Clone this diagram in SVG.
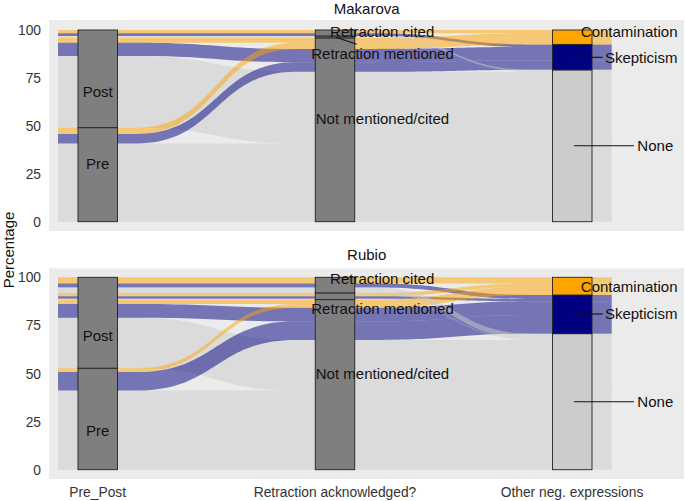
<svg xmlns="http://www.w3.org/2000/svg" width="685" height="501" viewBox="0 0 685 501">
<style>
text{font-family:"Liberation Sans",Arial,sans-serif;fill:#111}
.panel{fill:#EBEBEB}
.o{fill:#FFA500;fill-opacity:.5}
.p{fill:#000080;fill-opacity:.5}
.g{fill:#CCCCCC;fill-opacity:.5}
.st{stroke:#222;stroke-width:.9}
.gr{fill:#7F7F7F}
.lab{font-size:15px;text-anchor:middle}
.title{font-size:15px;text-anchor:middle}
.tick{font-size:13.8px;text-anchor:end;fill:#333}
.xl{font-size:13.8px;text-anchor:middle;fill:#333}
.seg{stroke:#111;stroke-width:1.1;fill:none}
</style>
<rect width="685" height="501" fill="#fff"/>
<rect class="panel" x="49" y="20" width="635" height="211"/>
<rect class="panel" x="49" y="268.3" width="635" height="210.7"/>
<text class="title" x="366.7" y="14">Makarova</text>
<text class="title" x="366.7" y="260">Rubio</text>

<g id="connectors">
<g id="flows-makarova">
<path class="g" d="M58,143.49H611.7V221.7H58Z"/>
<path class="g" d="M58,56.07H137.3C216.4,56.07 216.4,71.79 295.5,71.79H611.7V143.49H295.5C216.4,143.49 216.4,127.77 137.3,127.77H58Z"/>
<path class="o" d="M58,30H611.7V33.26H58Z"/>
<path class="p" d="M58,33.26H374.5C453.6,33.26 453.6,44.38 532.7,44.38H611.7V47.06H532.7C453.6,47.06 453.6,35.94 374.5,35.94H58Z"/>
<path class="o" d="M58,37.86H374.5C453.6,37.86 453.6,33.26 532.7,33.26H611.7V38.24H532.7C453.6,38.24 453.6,42.84 374.5,42.84H58Z"/>
<path class="p" d="M58,42.84H137.3C216.4,42.84 216.4,48.98 295.5,48.98H374.5C453.6,48.98 453.6,47.06 532.7,47.06H611.7V60.29H532.7C453.6,60.29 453.6,62.21 374.5,62.21H295.5C216.4,62.21 216.4,56.07 137.3,56.07H58Z"/>
<path class="o" d="M58,127.77H137.3C216.4,127.77 216.4,42.84 295.5,42.84H374.5C453.6,42.84 453.6,38.24 532.7,38.24H611.7V44.38H532.7C453.6,44.38 453.6,48.98 374.5,48.98H295.5C216.4,48.98 216.4,133.9 137.3,133.9H58Z"/>
<path class="p" d="M58,133.9H137.3C216.4,133.9 216.4,62.21 295.5,62.21H374.5C453.6,62.21 453.6,60.29 532.7,60.29H611.7V69.87H532.7C453.6,69.87 453.6,71.79 374.5,71.79H295.5C216.4,71.79 216.4,143.49 137.3,143.49H58Z"/>
<path class="g" d="M58,35.94H374.5C453.6,35.94 453.6,69.87 532.7,69.87H611.7V71.79H532.7C453.6,71.79 453.6,37.86 374.5,37.86H58Z"/>
</g>
<g id="flows-rubio">
<path class="g" d="M58,390.62H611.7V469.7H58Z"/>
<path class="g" d="M58,317.7H137.3C216.4,317.7 216.4,340.02 295.5,340.02H611.7V390.62H295.5C216.4,390.62 216.4,368.31 137.3,368.31H58Z"/>
<path class="o" d="M58,277.3H611.7V283.46H58Z"/>
<path class="p" d="M58,283.46H374.5C453.6,283.46 453.6,295 532.7,295H611.7V299.04H532.7C453.6,299.04 453.6,287.5 374.5,287.5H58Z"/>
<path class="o" d="M58,292.88H374.5C453.6,292.88 453.6,283.46 532.7,283.46H611.7V286.92H532.7C453.6,286.92 453.6,296.35 374.5,296.35H58Z"/>
<path class="p" d="M58,296.35H374.5C453.6,296.35 453.6,299.04 532.7,299.04H611.7V301.35H532.7C453.6,301.35 453.6,298.66 374.5,298.66H58Z"/>
<path class="o" d="M58,299.62H374.5C453.6,299.62 453.6,286.92 532.7,286.92H611.7V291.35H532.7C453.6,291.35 453.6,304.04 374.5,304.04H58Z"/>
<path class="p" d="M58,304.04H137.3C216.4,304.04 216.4,307.7 295.5,307.7H374.5C453.6,307.7 453.6,301.35 532.7,301.35H611.7V315.01H532.7C453.6,315.01 453.6,321.36 374.5,321.36H295.5C216.4,321.36 216.4,317.7 137.3,317.7H58Z"/>
<path class="o" d="M58,368.31H137.3C216.4,368.31 216.4,304.04 295.5,304.04H374.5C453.6,304.04 453.6,291.35 532.7,291.35H611.7V295H532.7C453.6,295 453.6,307.7 374.5,307.7H295.5C216.4,307.7 216.4,371.96 137.3,371.96H58Z"/>
<path class="p" d="M58,371.96H137.3C216.4,371.96 216.4,321.36 295.5,321.36H374.5C453.6,321.36 453.6,315.01 532.7,315.01H611.7V333.67H532.7C453.6,333.67 453.6,340.02 374.5,340.02H295.5C216.4,340.02 216.4,390.62 137.3,390.62H58Z"/>
<path class="g" d="M58,287.5H374.5C453.6,287.5 453.6,333.67 532.7,333.67H611.7V339.06H532.7C453.6,339.06 453.6,292.88 374.5,292.88H58Z"/>
<path class="g" d="M58,298.66H374.5C453.6,298.66 453.6,339.06 532.7,339.06H611.7V340.02H532.7C453.6,340.02 453.6,299.62 374.5,299.62H58Z"/>
</g>
</g>

<g id="m-post"><rect class="st gr" x="78" y="30" width="39.5" height="97.77"/><text class="lab" x="97.7" y="96.5">Post</text></g>
<g id="m-pre"><rect class="st gr" x="78" y="127.77" width="39.5" height="93.93"/><text class="lab" x="97.7" y="168.5">Pre</text></g>
<g id="m-not"><rect class="st gr" x="315.25" y="37.86" width="39.5" height="183.84"/><text class="lab" x="382.5" y="123.5">Not mentioned/cited</text></g>
<g id="m-mentioned"><rect class="st gr" x="315.25" y="35.94" width="39.5" height="1.92"/><line class="seg" x1="336" y1="37.3" x2="356.7" y2="44.3"/><text class="lab" x="382.5" y="59">Retraction mentioned</text></g>
<g id="m-cited"><rect class="st gr" x="315.25" y="30" width="39.5" height="5.94"/><text class="lab" x="382.2" y="37">Retraction cited</text></g>
<g id="m-none"><rect class="st" fill="#CCCCCC" x="552.5" y="69.87" width="39.5" height="151.83"/><line class="seg" x1="574" y1="145.7" x2="634" y2="145.7"/><text class="lab" x="655.3" y="150.7">None</text></g>
<g id="m-skepticism"><rect class="st" fill="#000080" x="552.5" y="44.38" width="39.5" height="25.49"/><line class="seg" x1="574" y1="57.3" x2="602.7" y2="57.3"/><text class="lab" x="641.2" y="62.5">Skepticism</text></g>
<g id="m-contamination"><rect class="st" fill="#FFA500" x="552.5" y="30" width="39.5" height="14.38"/><text class="lab" x="629.2" y="36.5">Contamination</text></g>

<g id="r-post"><rect class="st gr" x="78" y="277.3" width="39.5" height="91.01"/><text class="lab" x="97.7" y="340.5">Post</text></g>
<g id="r-pre"><rect class="st gr" x="78" y="368.31" width="39.5" height="101.39"/><text class="lab" x="97.7" y="436">Pre</text></g>
<g id="r-not"><rect class="st gr" x="315.25" y="299.62" width="39.5" height="170.08"/><text class="lab" x="382.5" y="378.7">Not mentioned/cited</text></g>
<g id="r-mentioned"><rect class="st gr" x="315.25" y="292.88" width="39.5" height="6.74"/><text class="lab" x="382.5" y="314">Retraction mentioned</text></g>
<g id="r-cited"><rect class="st gr" x="315.25" y="277.3" width="39.5" height="15.58"/><text class="lab" x="382.2" y="284.3">Retraction cited</text></g>
<g id="r-none"><rect class="st" fill="#CCCCCC" x="552.5" y="333.67" width="39.5" height="136.03"/><line class="seg" x1="574" y1="401.7" x2="634" y2="401.7"/><text class="lab" x="655.3" y="407.3">None</text></g>
<g id="r-skepticism"><rect class="st" fill="#000080" x="552.5" y="295" width="39.5" height="38.67"/><line class="seg" x1="574" y1="314" x2="602.7" y2="314"/><text class="lab" x="641.2" y="319">Skepticism</text></g>
<g id="r-contamination"><rect class="st" fill="#FFA500" x="552.5" y="277.3" width="39.5" height="17.7"/><text class="lab" x="629.2" y="292">Contamination</text></g>

<g id="axes">
<text class="tick" x="41" y="35">100</text>
<text class="tick" x="41" y="82.9">75</text>
<text class="tick" x="41" y="130.9">50</text>
<text class="tick" x="41" y="178.8">25</text>
<text class="tick" x="41" y="226.7">0</text>
<text class="tick" x="41" y="282.3">100</text>
<text class="tick" x="41" y="330.4">75</text>
<text class="tick" x="41" y="378.5">50</text>
<text class="tick" x="41" y="426.6">25</text>
<text class="tick" x="41" y="474.7">0</text>
<text class="xl" x="97.7" y="497">Pre_Post</text>
<text class="xl" x="335" y="497">Retraction acknowledged?</text>
<text class="xl" x="572" y="497">Other neg. expressions</text>
<text font-size="15" text-anchor="middle" transform="translate(14,250) rotate(-90)">Percentage</text>
</g>
</svg>
